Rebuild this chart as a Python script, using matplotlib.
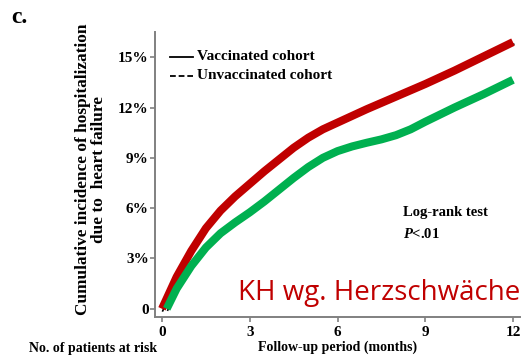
#!/usr/bin/env python3
"""Cumulative incidence of heart-failure hospitalization, vaccinated vs unvaccinated."""
import matplotlib
matplotlib.use("Agg")
import matplotlib.pyplot as plt
import matplotlib.transforms as mtransforms
from matplotlib.ticker import FuncFormatter

# follow-up (months) and cumulative incidence (%)
vacc_months = [0, 0.5, 1, 1.5, 2, 2.5, 3, 3.5, 4, 4.5, 5, 5.5, 6, 7, 8, 9, 10, 11, 12]
vacc_pct = [0, 1.9, 3.45, 4.8, 5.85, 6.7, 7.45, 8.2, 8.9, 9.6, 10.2, 10.7, 11.1, 11.9, 12.65, 13.4, 14.2, 15.05, 15.9]

unvacc_months = [0.16, 0.5, 1, 1.5, 2, 2.5, 3, 3.5, 4, 4.5, 5, 5.5, 6, 6.5, 7, 7.5, 8, 8.5, 9, 10, 11, 12]
unvacc_pct = [0, 1.2, 2.55, 3.65, 4.5, 5.15, 5.75, 6.4, 7.1, 7.8, 8.45, 9.0, 9.4, 9.68, 9.9, 10.1, 10.35, 10.7, 11.15, 12.0, 12.8, 13.65]

x_ticks = [0, 3, 6, 9, 12]
y_ticks = [0, 3, 6, 9, 12, 15]

SERIF = "Liberation Serif"
RED = "#C00000"
GREEN = "#00B050"
SPINE = "#808080"

plt.rcParams["mathtext.fontset"] = "custom"
plt.rcParams["mathtext.it"] = "Liberation Serif:italic:bold"
plt.rcParams["mathtext.rm"] = "Liberation Serif:bold"

fig = plt.figure(figsize=(5.29, 3.56), dpi=100)
ax = fig.add_axes([0.293, 0.11, 0.69, 0.80])

# black KM curves, nudged slightly down so they peek out under the colored overlay
shift = mtransforms.offset_copy(ax.transData, fig=fig, x=0.5, y=-1.5, units="points")
ax.plot(vacc_months, vacc_pct, color="black", lw=1.2, transform=shift, zorder=2)
ax.plot(unvacc_months, unvacc_pct, color="black", lw=1.2, ls=(0, (5, 2)), transform=shift, zorder=2)

ax.plot(vacc_months, vacc_pct, color=RED, lw=5.8, solid_capstyle="butt",
        solid_joinstyle="round", zorder=3)
ax.plot(unvacc_months, unvacc_pct, color=GREEN, lw=5.8, solid_capstyle="butt",
        solid_joinstyle="round", zorder=3)

ax.set_xlim(-0.24, 12.24)
ax.set_ylim(-0.48, 16.5)
ax.set_xticks(x_ticks)
ax.set_yticks(y_ticks)
ax.yaxis.set_major_formatter(FuncFormatter(lambda v, _: "0" if v == 0 else f"{v:.0f}%"))

for side in ("top", "right"):
    ax.spines[side].set_visible(False)
for side in ("left", "bottom"):
    ax.spines[side].set_color(SPINE)
    ax.spines[side].set_linewidth(1.4)
ax.tick_params(axis="both", direction="out", length=3.5, width=1.2, color=SPINE)
ax.tick_params(axis="y", pad=1)
ax.tick_params(axis="x", pad=3)
for lab in ax.get_xticklabels() + ax.get_yticklabels():
    lab.set_fontfamily(SERIF)
    lab.set_fontweight("bold")
    lab.set_fontsize(11)

ax.set_xlabel("Follow-up period (months)", family=SERIF, weight="bold", fontsize=10, labelpad=1)
fig.text(0.172, 0.525, "Cumulative incidence of hospitalization\ndue to  heart failure",
         family=SERIF, weight="bold", fontsize=12.4, rotation=90, linespacing=1.0,
         ha="center", va="center", multialignment="center")

# legend drawn by hand: short black line samples
leg_lines = [("Vaccinated cohort", "-"), ("Unvaccinated cohort", (0, (3.2, 1.6)))]
for i, (label, style) in enumerate(leg_lines):
    y = 0.913 - i * 0.067
    ax.plot([0.041, 0.104], [y, y], transform=ax.transAxes, color="black", lw=1.3, ls=style)
    ax.text(0.115, y, label, transform=ax.transAxes, family=SERIF, weight="bold",
            fontsize=11, va="center", ha="left")

ax.text(0.68, 0.365, "Log-rank test", transform=ax.transAxes, family=SERIF,
        weight="bold", fontsize=10.5, ha="left", va="center")
ax.text(0.68, 0.29, r"$\mathit{P}$<.01", transform=ax.transAxes, family=SERIF,
        weight="bold", fontsize=10.5, ha="left", va="center")

fig.text(0.45, 0.157, "KH wg. Herzschwäche", color=RED, family="Open Sans",
         fontsize=20, ha="left", va="baseline")

fig.text(0.022, 0.95, "c.", family=SERIF, weight="bold", fontsize=17, ha="left", va="center")
fig.text(0.055, 0.022, "No. of patients at risk", family=SERIF, weight="bold",
         fontsize=10, ha="left", va="center")

fig.savefig("out.png", dpi=100)
